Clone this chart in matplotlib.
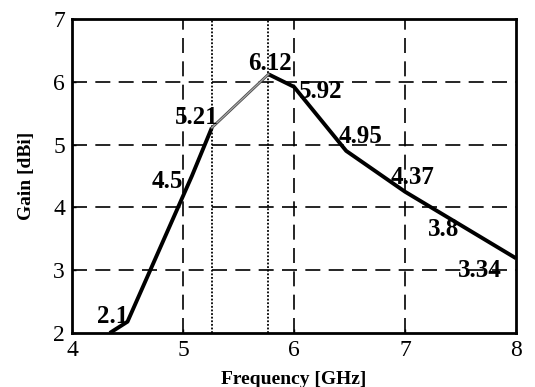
import matplotlib
matplotlib.use("Agg")
import matplotlib.pyplot as plt

# Data
freq = [4.34, 4.5, 5.08, 5.26, 5.77, 6.0, 6.47, 7.0, 7.5, 8.0]
gain = [2.0, 2.18, 4.5, 5.27, 6.12, 5.92, 4.9, 4.25, 3.72, 3.19]
labels = [None, "2.1", "4.5", "5.21", "6.12", "5.92", "4.95", "4.37", "3.8", "3.34"]
band_edges = [5.26, 5.77]
xticks = [4, 5, 6, 7, 8]
yticks = [2, 3, 4, 5, 6, 7]

# label offsets in pixels (dx right, dy down)
offsets_px = [None, (-15, -5), (-25, 6), (-15, -10), (2, -11), (27, 5),
              (14, -14), (8, -14), (-17, 5), (-36, 12)]

plt.rcParams['font.family'] = ['Liberation Serif', 'DejaVu Serif']

fig = plt.figure(figsize=(5.35, 3.87), dpi=100)
W, H = 535, 387
l, r, t, b = 72, 516, 19, 333
ax = fig.add_axes([l / W, 1 - b / H, (r - l) / W, (b - t) / H])

ax.set_xlim(4, 8)
ax.set_ylim(2, 7)

for xv in [5, 6, 7]:
    ax.axvline(xv, color='black', lw=1.2, linestyle=(0, (9, 5)), zorder=1)
for yv in [3, 4, 5, 6]:
    ax.axhline(yv, color='black', lw=1.2, linestyle=(0, (9, 5)), zorder=1)
for xv in band_edges:
    ax.axvline(xv, color='black', lw=1.3, linestyle=(0, (1, 1)), zorder=1)

i0, i1 = freq.index(band_edges[0]), freq.index(band_edges[1])
ax.plot(freq[:i0 + 1], gain[:i0 + 1], color='black', lw=2.8, solid_capstyle='butt', zorder=3)
ax.plot(freq[i1:], gain[i1:], color='black', lw=2.8, solid_capstyle='butt', zorder=3)
ax.plot(freq[i0:i1 + 1], gain[i0:i1 + 1], color='#444444', lw=2.0, zorder=3)
ax.plot(freq[i0:i1 + 1], gain[i0:i1 + 1], color='#a8a8a8', lw=0.9, zorder=4)

for f, g, lab, off in zip(freq, gain, labels, offsets_px):
    if lab is None:
        continue
    ax.annotate(lab, (f, g), xytext=(off[0] * 0.72, -off[1] * 0.72),
                textcoords='offset points', ha='center', va='center',
                fontsize=18, fontweight='bold', zorder=5)

ax.set_xticks(xticks)
ax.set_yticks(yticks)
ax.tick_params(direction='in', length=3, width=1, labelsize=17, pad=5,
               top=False, right=False)
for s in ax.spines.values():
    s.set_linewidth(2)

ax.set_xlabel('Frequency [GHz]', fontsize=14, fontweight='bold', labelpad=7)
ax.set_ylabel('Gain [dBi]', fontsize=14, fontweight='bold', labelpad=13)

fig.savefig('out.png', dpi=100)
